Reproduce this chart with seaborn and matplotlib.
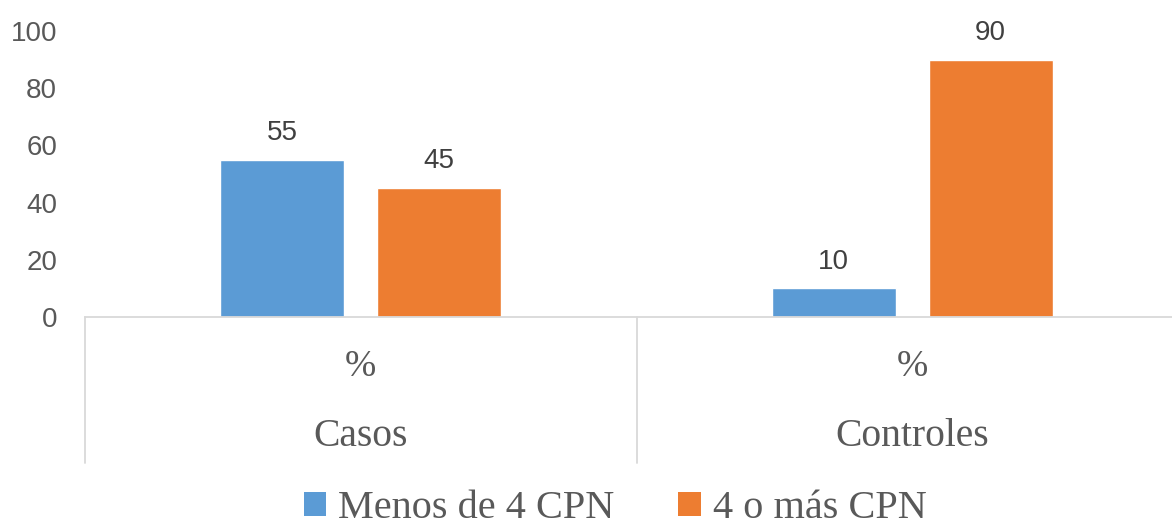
import matplotlib
matplotlib.use("Agg")
import matplotlib.pyplot as plt
import matplotlib.transforms as mtransforms
from matplotlib.patches import Patch
import seaborn as sns
import pandas as pd

groups = ["Casos", "Controles"]
sub_label = "%"
series_names = ["Menos de 4 CPN", "4 o más CPN"]
menos_de_4 = [55, 10]
cuatro_o_mas = [45, 90]
y_ticks = [0, 20, 40, 60, 80, 100]

colors = ["#5B9BD5", "#ED7D31"]

df = pd.DataFrame({
    "grupo": groups * 2,
    "serie": [series_names[0]] * 2 + [series_names[1]] * 2,
    "valor": menos_de_4 + cuatro_o_mas,
})

sns.set_theme(style="white")
plt.rcParams["font.family"] = ["Liberation Sans", "DejaVu Sans"]

W, H = 1172, 527
fig = plt.figure(figsize=(W / 100, H / 100), dpi=100)
left, right, top, bottom = 85, 1188, 31, 317
ax = fig.add_axes([left / W, (H - bottom) / H, (right - left) / W, (bottom - top) / H])

sns.barplot(data=df, x="grupo", y="valor", hue="serie", hue_order=series_names,
            order=groups, palette=colors, width=0.569, gap=0.21, ax=ax,
            legend=False, saturation=1)

ax.set_ylim(0, 100)
ax.set_xlim(-0.5, 1.5)
ax.set_yticks(y_ticks)
ax.set_yticklabels([str(t) for t in y_ticks], fontsize=20, color="#595959")
ax.tick_params(axis="y", length=0, pad=20)
ax.set_xticks([])
ax.set_xlabel("")
ax.set_ylabel("")
for s in ["top", "right", "left"]:
    ax.spines[s].set_visible(False)
ax.spines["bottom"].set_color("#d9d9d9")
ax.spines["bottom"].set_linewidth(1.3)

for cont in ax.containers:
    ax.bar_label(cont, labels=[f"{v:.0f}" for v in cont.datavalues],
                 padding=10, fontsize=20, color="#404040")

trans = mtransforms.blended_transform_factory(ax.transData, ax.transAxes)
sep_bottom = -(463 - 317) / (bottom - top)
for xs in [-0.5, 0.5, 1.5]:
    ax.plot([xs, xs], [0, sep_bottom], transform=trans, color="#d9d9d9",
            lw=1.3, clip_on=False)

serif = ["Liberation Serif", "DejaVu Serif"]
for i, g in enumerate(groups):
    ax.text(i, -(367 - 317) / (bottom - top), sub_label, transform=trans,
            ha="center", va="center", fontsize=27, color="#595959", family=serif)
    ax.text(i, -(437 - 317) / (bottom - top), g, transform=trans,
            ha="center", va="center", fontsize=28.5, color="#595959", family=serif)

handles = [Patch(facecolor=c, edgecolor="none") for c in colors]
fig.legend(handles, series_names, loc="center", bbox_to_anchor=(615 / W, 1 - 509 / H),
           ncol=2, frameon=False, prop={"family": "Liberation Serif", "size": 29},
           labelcolor="#595959", handlelength=0.55, handleheight=0.55,
           handletextpad=0.3, columnspacing=1.6, borderaxespad=0, borderpad=0)

fig.savefig("out.png", dpi=100)
